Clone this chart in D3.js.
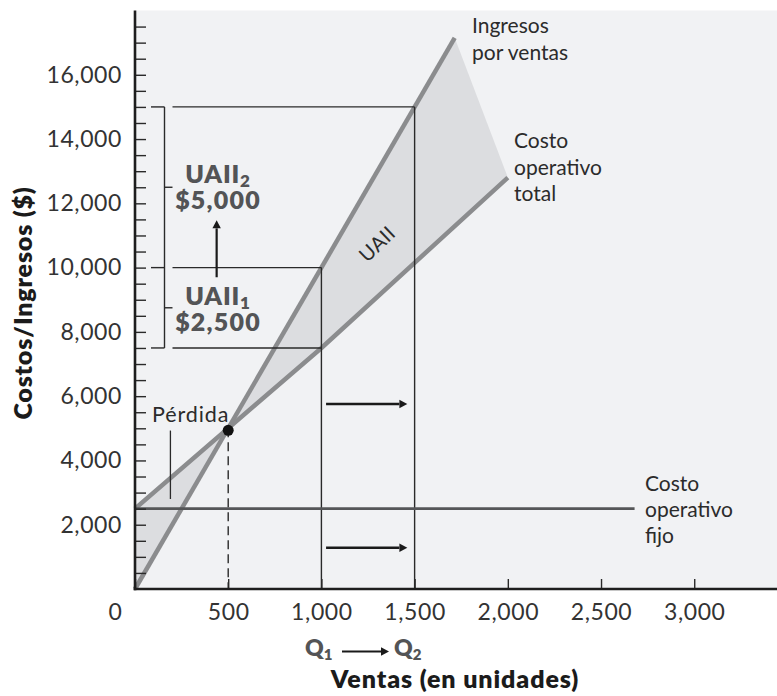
<!DOCTYPE html>
<html>
<head>
<meta charset="utf-8">
<script src="https://cdn.jsdelivr.net/npm/d3@7/dist/d3.min.js"></script>
<style>
  html, body { margin: 0; padding: 0; background: #ffffff; }
  svg { display: block; }
  text { font-family: Lato, "Open Sans", "DejaVu Sans", sans-serif; }
</style>
</head>
<body>
<script>
// ---------------- data ----------------
const xTicks = [0, 500, 1000, 1500, 2000, 2500, 3000];
const xTickLabels = ["0", "500", "1,000", "1,500", "2,000", "2,500", "3,000"];
const yTicks = [2000, 4000, 6000, 8000, 10000, 12000, 14000, 16000];
const yTickLabels = ["2,000", "4,000", "6,000", "8,000", "10,000", "12,000", "14,000", "16,000"];
const yMinorTicks = d3.range(500, 18000, 500);

const revenuePts = [[0, 0], [1715, 17150]];                  // Ingresos por ventas
const totalCostPts = [[0, 2500], [1000, 7500], [2000, 12800]]; // Costo operativo total
const fixedCostPts = [[0, 2500], [2680, 2500]];              // Costo operativo fijo
const breakEven = [500, 5000];
const q1 = 1000, q2 = 1500;
const ebit1Range = [7500, 10000];   // UAII1 $2,500
const ebit2Range = [10000, 15000];  // UAII2 $5,000

// ---------------- setup ----------------
const W = 777, H = 696;
const svg = d3.select("body").append("svg").attr("width", W).attr("height", H);

const x = d3.scaleLinear().domain([0, 3444]).range([135, 777]);
const y = d3.scaleLinear().domain([0, 18000]).range([589, 10.5]);
const line = d3.line().x(d => x(d[0])).y(d => y(d[1]));

const lineGray = "#8b8c8e";
const shade = "#dcdde0";
const bg = "#f1f2f4";
const dark = "#2a2a2a";

// background
svg.append("rect").attr("x", x(0)).attr("y", y(18000))
  .attr("width", W - x(0)).attr("height", y(0) - y(18000)).attr("fill", bg);

// shaded regions
const lossPoly = [revenuePts[0], totalCostPts[0], breakEven];
const revEnd = revenuePts[revenuePts.length - 1];
const costEnd = totalCostPts[totalCostPts.length - 1];
const uaiiPoly = [breakEven, revEnd, costEnd]
  .concat(totalCostPts.filter(d => d[0] > breakEven[0] && d[0] < costEnd[0]).reverse());
svg.append("path").attr("d", line(lossPoly) + "Z").attr("fill", shade);
svg.append("path").attr("d", line(uaiiPoly) + "Z").attr("fill", shade);

// revenue and total cost lines
svg.append("path").attr("d", line(revenuePts)).attr("fill", "none")
  .attr("stroke", lineGray).attr("stroke-width", 4.5);
svg.append("path").attr("d", line(totalCostPts)).attr("fill", "none")
  .attr("stroke", lineGray).attr("stroke-width", 4.5);

// guide lines (Q1, Q2)
const g = svg.append("g").attr("stroke", dark).attr("stroke-width", 1.4).attr("fill", "none");
g.append("line").attr("x1", x(q1)).attr("x2", x(q1)).attr("y1", y(0)).attr("y2", y(ebit2Range[0]));
g.append("line").attr("x1", x(q2)).attr("x2", x(q2)).attr("y1", y(0)).attr("y2", y(ebit2Range[1]));

// brackets
const bx0 = x(0) + 16, bx1 = x(0) + 29.5, bx2 = x(0) + 37.5;
[[ebit2Range[1], x(q2)], [ebit1Range[1], x(q1)], [ebit1Range[0], x(q1)]].forEach(([v, xe]) => {
  g.append("line").attr("x1", bx0).attr("x2", bx1).attr("y1", y(v)).attr("y2", y(v));
  g.append("line").attr("x1", bx2).attr("x2", xe).attr("y1", y(v)).attr("y2", y(v));
});
g.append("line").attr("x1", bx1).attr("x2", bx1).attr("y1", y(ebit2Range[1])).attr("y2", y(ebit1Range[0]));
[ebit2Range, ebit1Range].forEach(r => {
  const m = y((r[0] + r[1]) / 2);
  g.append("line").attr("x1", bx1).attr("x2", bx2).attr("y1", m).attr("y2", m);
});

// fixed cost line
svg.append("path").attr("d", line(fixedCostPts)).attr("fill", "none")
  .attr("stroke", "#555658").attr("stroke-width", 2.6);

// dashed break-even line
svg.append("line").attr("x1", x(breakEven[0])).attr("x2", x(breakEven[0]))
  .attr("y1", y(breakEven[1])).attr("y2", y(0))
  .attr("stroke", dark).attr("stroke-width", 1.4).attr("stroke-dasharray", "9,5");
svg.append("circle").attr("cx", x(breakEven[0])).attr("cy", y(breakEven[1]) + 2).attr("r", 5.5).attr("fill", "#111");

// arrows
function arrow(x1, y1, x2, y2, w) {
  const ang = Math.atan2(y2 - y1, x2 - x1), L = 8, hw = 4.2;
  const bxp = x2 - L * Math.cos(ang), byp = y2 - L * Math.sin(ang);
  svg.append("line").attr("x1", x1).attr("y1", y1).attr("x2", bxp).attr("y2", byp)
    .attr("stroke", "#1a1a1a").attr("stroke-width", w);
  svg.append("path").attr("fill", "#1a1a1a").attr("d",
    `M${x2},${y2}L${bxp - hw * Math.sin(ang)},${byp + hw * Math.cos(ang)}L${bxp + hw * Math.sin(ang)},${byp - hw * Math.cos(ang)}Z`);
}
arrow(x(438), y(9700), x(438), y(11470), 2.2);
arrow(x(1025), y(5756), x(1461), y(5756), 2.6);
arrow(x(1025), y(1285), x(1461), y(1285), 2.6);

// Pérdida pointer
svg.append("line").attr("x1", x(190)).attr("x2", x(190)).attr("y1", y(4930)).attr("y2", y(2800))
  .attr("stroke", dark).attr("stroke-width", 1.3);

// ---------------- axes ----------------
const yMinor = d3.axisLeft(y).tickValues(yMinorTicks).tickSizeInner(-11).tickSizeOuter(0).tickFormat("");
const gyM = svg.append("g").attr("transform", `translate(${x(0)},0)`).call(yMinor);
gyM.select(".domain").remove();
gyM.selectAll(".tick line").attr("stroke", dark).attr("stroke-width", 1.4);

const yAxis = d3.axisLeft(y).tickValues(yTicks).tickSize(0).tickPadding(13)
  .tickFormat((d, i) => yTickLabels[i]);
const gy = svg.append("g").attr("transform", `translate(${x(0)},0)`).call(yAxis);
gy.select(".domain").remove();
gy.selectAll("text").attr("font-size", 23).attr("letter-spacing", 0.6).attr("fill", "#333")
  .attr("font-family", "Lato, sans-serif");

const xAxis = d3.axisBottom(x).tickValues(xTicks).tickSizeInner(-10).tickSizeOuter(0).tickPadding(15)
  .tickFormat((d, i) => xTickLabels[i]);
const gx = svg.append("g").attr("transform", `translate(0,${y(0)})`).call(xAxis);
gx.select(".domain").remove();
gx.selectAll(".tick line").attr("stroke", dark).attr("stroke-width", 1.4);
gx.selectAll("text").attr("font-size", 23).attr("letter-spacing", 0.6).attr("fill", "#333")
  .attr("font-family", "Lato, sans-serif");
gx.selectAll(".tick").filter(d => d === 0).select("text").attr("x", -20);

// axis lines
svg.append("line").attr("x1", x(0)).attr("x2", x(0)).attr("y1", y(18000)).attr("y2", y(0) + 1.2)
  .attr("stroke", "#1e1e1e").attr("stroke-width", 2.6);
svg.append("line").attr("x1", x(0) - 1.3).attr("x2", W).attr("y1", y(0)).attr("y2", y(0))
  .attr("stroke", "#1e1e1e").attr("stroke-width", 2.6);

// ---------------- text ----------------
function multi(lines, tx, ty, lh, opts) {
  const t = svg.append("text").attr("x", tx).attr("y", ty)
    .attr("font-size", opts.size).attr("fill", opts.fill)
    .attr("font-weight", opts.weight || 400).attr("text-anchor", opts.anchor || "start");
  lines.forEach((l, i) => t.append("tspan").attr("x", tx).attr("dy", i === 0 ? 0 : lh).text(l));
  return t;
}
const annot = { size: 21, fill: "#2b2b2b" };
multi(["Ingresos", "por ventas"], 472, 33, 26.5, annot);
multi(["Costo", "operativo", "total"], 514, 148, 26.6, annot);
multi(["Costo", "operativo", "fijo"], 645, 491, 26.2, annot);
svg.append("text").attr("x", 152).attr("y", 422).attr("font-size", 21.5).attr("letter-spacing", 0.9)
  .attr("fill", "#2b2b2b").text("Pérdida");

// rotated UAII
svg.append("text").attr("transform", "translate(382,249) rotate(-44)")
  .attr("text-anchor", "middle").attr("font-size", 20).attr("letter-spacing", 0.5)
  .attr("fill", "#2b2b2b").text("UAII");

// UAII labels
function uaii(sub, amount, cx, by1, by2) {
  const t = svg.append("text").attr("x", cx).attr("y", by1).attr("text-anchor", "middle")
    .attr("font-size", 25).attr("font-weight", 800).attr("letter-spacing", 0.8).attr("fill", "#535456");
  t.append("tspan").text("UAII");
  t.append("tspan").attr("font-size", 17).attr("dy", 4).text(sub);
  svg.append("text").attr("x", cx).attr("y", by2).attr("text-anchor", "middle")
    .attr("font-size", 25).attr("font-weight", 800).attr("letter-spacing", 1.2)
    .attr("fill", "#535456").text(amount);
}
uaii("2", "$5,000", 218, 183, 208.5);
uaii("1", "$2,500", 218, 305, 331);

// Q1 -> Q2
function qlabel(sub, lx) {
  const t = svg.append("text").attr("x", lx).attr("y", 656)
    .attr("font-size", 23).attr("font-weight", 800).attr("fill", "#535456");
  t.append("tspan").text("Q");
  t.append("tspan").attr("font-size", 15).attr("dy", 4).text(sub);
}
qlabel("1", 305);
qlabel("2", 394);
arrow(342, 651.5, 389, 651.5, 2);

// axis titles
svg.append("text").attr("x", 455).attr("y", 688).attr("text-anchor", "middle")
  .attr("font-size", 25).attr("font-weight", 800).attr("letter-spacing", 0.9)
  .attr("fill", "#1b1b1b").text("Ventas (en unidades)");
svg.append("text").attr("transform", "translate(32,303) rotate(-90)").attr("text-anchor", "middle")
  .attr("font-size", 25).attr("font-weight", 800).attr("letter-spacing", 0.8)
  .attr("fill", "#1b1b1b").text("Costos/Ingresos ($)");
</script>
</body>
</html>
